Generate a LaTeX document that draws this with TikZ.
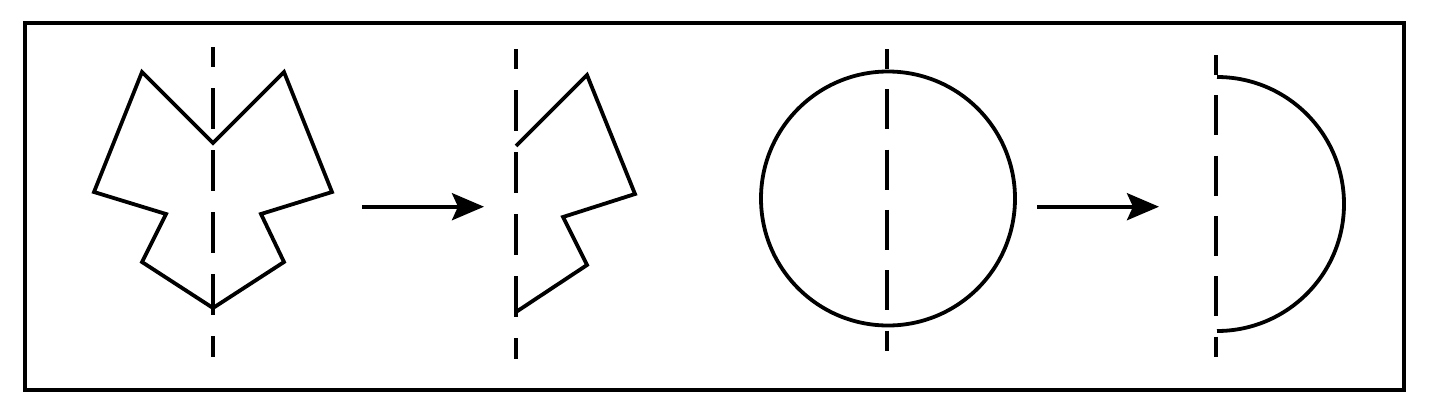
\documentclass[tikz,border=0pt]{standalone}
\usetikzlibrary{arrows.meta}
\begin{document}
\begin{tikzpicture}[x=1pt,y=-1pt,
  solidline/.style={line width=3.8pt, line join=miter},
  axisline/.style={line width=3.8pt, dash pattern=on 41pt off 21pt, dash phase=21pt},
  axislineb/.style={line width=3.8pt, dash pattern=on 40pt off 20.3pt, dash phase=20pt},
  maparrow/.style={line width=3.8pt, -{Stealth[length=32pt,width=27pt,inset=6pt]}}]
\useasboundingbox (0,0) rectangle (1438,413);
\draw[line width=4pt] (24.7,22.5) rectangle (1404.3,390);
% figure 1
\coordinate (a1) at (213,143);
\draw[solidline] (a1) -- (142,72) -- (94,192) -- (166,214) -- (142,262) -- (213,308)
  -- (284,262) -- (261,214) -- (332,192) -- (284,72) -- cycle;
\draw[axisline] (213,47) -- (213,357);
% arrow 1
\coordinate (s1) at (362,206.7);
\coordinate (e1) at (484,206.7);
\draw[maparrow] (s1) -- (e1);
% figure 2
\draw[solidline] (516,146) -- (587,75) -- (635,194) -- (563,217) -- (587,265) -- (516,312);
\draw[axisline] (516,49) -- (516,359);
% circle
\coordinate (c) at (888,198.5);
\draw[line width=3.8pt] (c) circle[radius=127];
\draw[axislineb] (887,49) -- (887,351);
% arrow 2
\coordinate (s2) at (1037,206.7);
\coordinate (e2) at (1159,206.7);
\draw[maparrow] (s2) -- (e2);
% semicircle
\draw[line width=3.8pt] (1217,77) arc[start angle=-90, end angle=90, radius=127];
\draw[axislineb] (1216.3,55) -- (1216.3,357);
\end{tikzpicture}
\end{document}
